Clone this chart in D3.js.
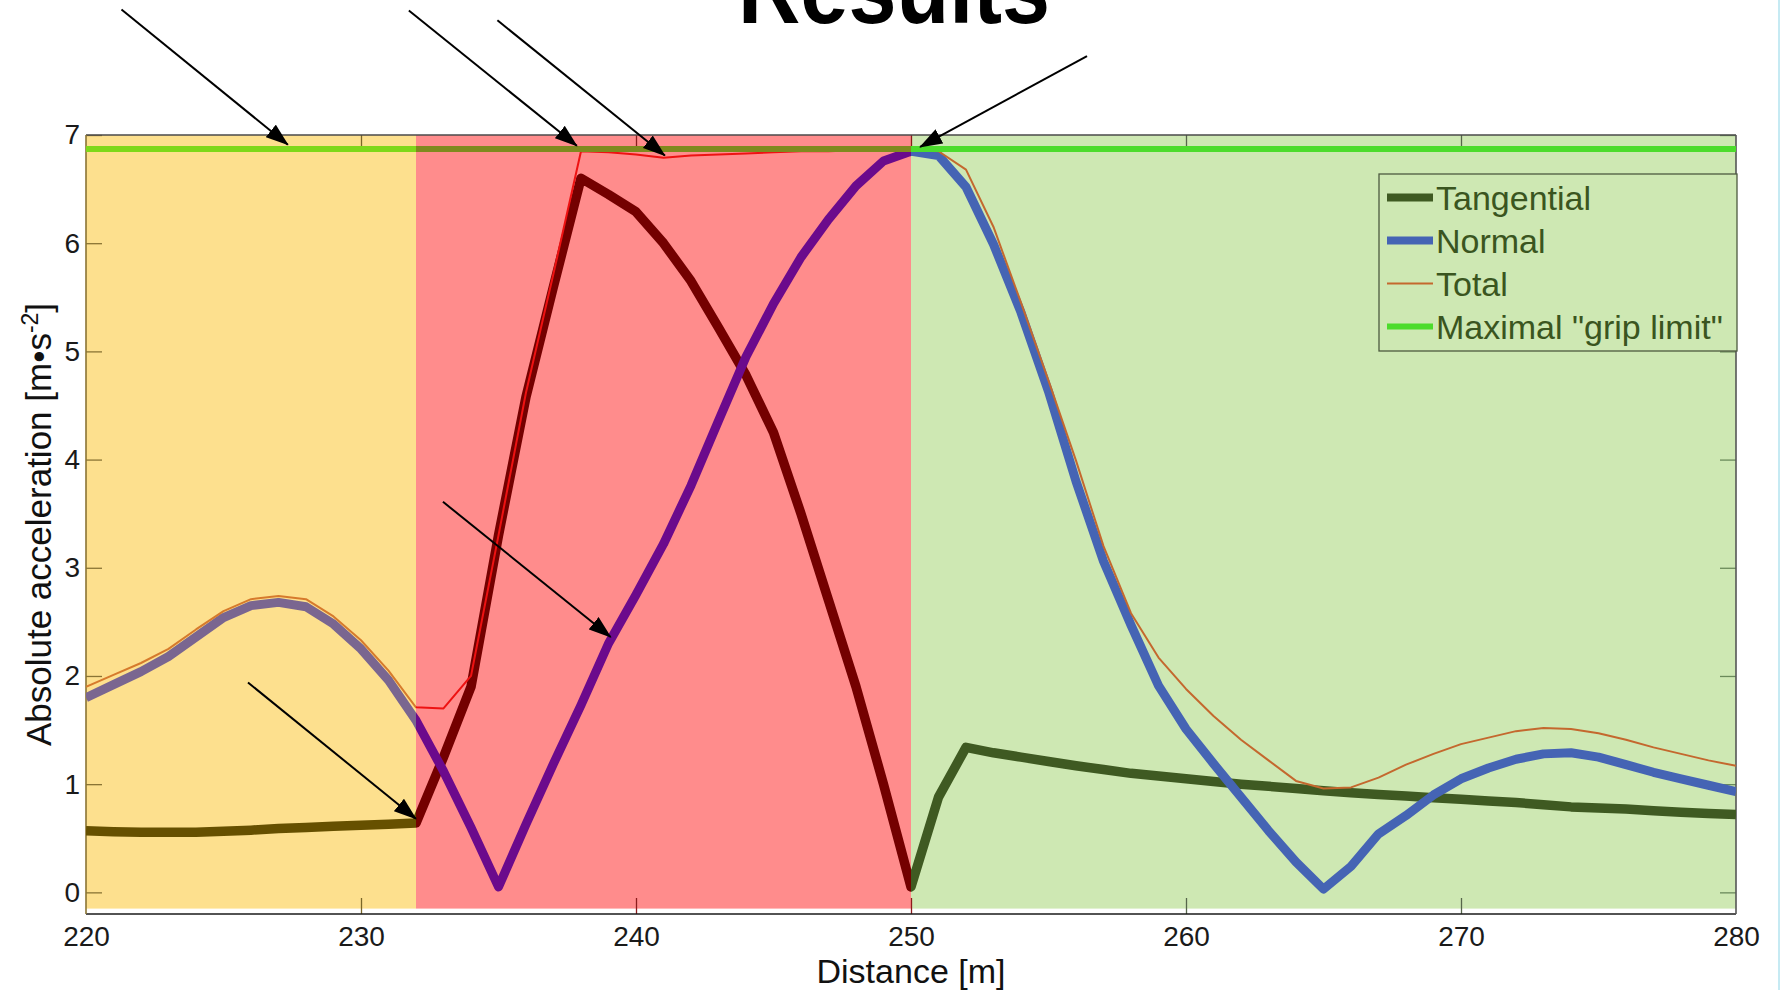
<!DOCTYPE html>
<html>
<head>
<meta charset="utf-8">
<script src="https://cdnjs.cloudflare.com/ajax/libs/d3/7.8.5/d3.min.js"></script>
<style>
    body { margin: 0; background: #ffffff; }
    #chart { width: 1781px; height: 990px; }
    text { font-family: "Liberation Sans", Arial, sans-serif; }
</style>
</head>
<body>
<div id="chart"></div>
<script>

// distance grid [m]
var distance = [
    220, 221, 222, 223, 224, 225, 226, 227, 228, 229,
    230, 231, 232, 233, 234, 235, 236, 237, 238, 239,
    240, 241, 242, 243, 244, 245, 246, 247, 248, 249,
    250, 251, 252, 253, 254, 255, 256, 257, 258, 259,
    260, 261, 262, 263, 264, 265, 266, 267, 268, 269,
    270, 271, 272, 273, 274, 275, 276, 277, 278, 279, 280
];

// accelerations [m/s2]
var tangential = [
    0.57, 0.56, 0.555, 0.555, 0.555, 0.565, 0.575, 0.59, 0.60, 0.61,
    0.62, 0.63, 0.64, 1.25, 1.90, 3.30, 4.58, 5.60, 6.60, 6.45,
    6.29, 6.00, 5.65, 5.22, 4.78, 4.25, 3.50, 2.70, 1.90, 1.00,
    0.05, 0.88, 1.34, 1.29, 1.25, 1.21, 1.17, 1.135, 1.10, 1.075,
    1.05, 1.025, 1.00, 0.98, 0.96, 0.94, 0.92, 0.905, 0.89, 0.875,
    0.86, 0.845, 0.83, 0.81, 0.79, 0.78, 0.77, 0.755, 0.74, 0.73, 0.72
];

var normal = [
    1.80, 1.92, 2.04, 2.18, 2.36, 2.54, 2.65, 2.68, 2.64, 2.48,
    2.25, 1.96, 1.59, 1.12, 0.60, 0.05, 0.63, 1.19, 1.73, 2.30,
    2.75, 3.22, 3.76, 4.36, 4.95, 5.44, 5.87, 6.22, 6.53, 6.76,
    6.85, 6.81, 6.52, 5.99, 5.36, 4.63, 3.80, 3.06, 2.47, 1.91,
    1.51, 1.19, 0.88, 0.57, 0.28, 0.03, 0.24, 0.54, 0.71, 0.90,
    1.05, 1.15, 1.23, 1.28, 1.29, 1.25, 1.18, 1.11, 1.05, 0.99, 0.93
];

var total = [
    1.90, 2.01, 2.12, 2.25, 2.43, 2.60, 2.71, 2.74, 2.71, 2.55,
    2.33, 2.05, 1.71, 1.70, 2.00, 3.30, 4.62, 5.72, 6.85, 6.84,
    6.82, 6.79, 6.81, 6.82, 6.83, 6.84, 6.85, 6.85, 6.86, 6.86,
    6.86, 6.85, 6.68, 6.15, 5.45, 4.73, 3.99, 3.20, 2.58, 2.17,
    1.88, 1.63, 1.41, 1.22, 1.03, 0.96, 0.97, 1.06, 1.18, 1.28,
    1.37, 1.43, 1.49, 1.52, 1.51, 1.47, 1.41, 1.34, 1.28, 1.22, 1.17
];

var gripDistance = [220, 280];
var gripLimit = [6.87, 6.87];

// coloured zones along the track
var zoneStart = [220, 232, 250];
var zoneEnd = [232, 250, 280];

var xTicks = [220, 230, 240, 250, 260, 270, 280];
var yTicks = [0, 1, 2, 3, 4, 5, 6, 7];

var legendLabels = ["Tangential", "Normal", "Total", "Maximal \"grip limit\""];

// annotation arrows, in data units (distance, acceleration)
var arrowFromDist = [221.29, 231.74, 234.96, 256.40, 232.98, 225.89];
var arrowFromAcc  = [8.16, 8.15, 8.06, 7.73, 3.61, 1.94];
var arrowToDist   = [227.34, 237.85, 241.05, 250.33, 239.08, 232.00];
var arrowToAcc    = [6.91, 6.90, 6.81, 6.89, 2.36, 0.68];


var width = 1781;
var height = 990;
var margin = {top: 135, left: 86, right: 45, bottom: 76};

var zoneFill = ["#fde08e", "#ff8c8c", "#cee8b3"];
var tickColors = ["#7a6628", "#8c1c1c", "#56664a"];

var series = [
    {x: distance, y: tangential, width: 9.5, colors: ["#665000", "#740000", "#3f5a22"]},
    {x: distance, y: normal, width: 9, colors: ["#7a6690", "#6b0a8c", "#4564b4"]},
    {x: distance, y: total, width: 2, colors: ["#d67a2c", "#ee1212", "#c4682e"]},
    {x: gripDistance, y: gripLimit, width: 6, colors: ["#7ed81a", "#7f8a1e", "#4cdc2c"]}
];
var legendColors = ["#3f5a22", "#4564b4", "#c4682e", "#4cdc2c"];
var legendWidths = [8, 8, 2, 6];

var svg = d3.select("#chart")
    .append("svg")
    .attr("width", width)
    .attr("height", height);

var xScale = d3.scaleLinear()
    .domain([220, 280])
    .range([margin.left, width - margin.right]);

var yScale = d3.scaleLinear()
    .domain([-0.2, 7])
    .range([height - margin.bottom, margin.top]);

function zoneOf(d) {
    if (d < zoneStart[1]) return 0;
    if (d <= zoneStart[2]) return 1;
    return 2;
}

var defs = svg.append("defs");

zoneStart.forEach(function(s, i) {
    defs.append("clipPath")
        .attr("id", "zone" + i)
        .append("rect")
            .attr("x", xScale(s))
            .attr("y", 0)
            .attr("width", xScale(zoneEnd[i]) - xScale(s))
            .attr("height", height);
});

defs.append("marker")
    .attr("id", "arrowhead")
    .attr("markerUnits", "userSpaceOnUse")
    .attr("markerWidth", 23)
    .attr("markerHeight", 16)
    .attr("refX", 22)
    .attr("refY", 8)
    .attr("orient", "auto")
    .append("path")
        .attr("d", "M0,0 L23,8 L0,16 Z")
        .attr("fill", "#000");

// zone backgrounds
svg.selectAll("rect.zone")
    .data(zoneStart)
    .enter()
    .append("rect")
        .attr("class", "zone")
        .attr("x", function(d) { return xScale(d); })
        .attr("y", yScale(7))
        .attr("width", function(d, i) { return xScale(zoneEnd[i]) - xScale(d); })
        .attr("height", yScale(-0.15) - yScale(7))
        .attr("fill", function(d, i) { return zoneFill[i]; });

// axes with inward ticks
var xAxis = svg.append("g")
    .attr("class", "axis")
    .attr("transform", `translate(0,${yScale(-0.2)})`)
    .call(d3.axisBottom(xScale).tickValues(xTicks).tickSizeInner(-16).tickSizeOuter(0).tickPadding(12));

var xAxisTop = svg.append("g")
    .attr("class", "axis")
    .attr("transform", `translate(0,${yScale(7)})`)
    .call(d3.axisTop(xScale).tickValues(xTicks).tickSizeInner(-16).tickSizeOuter(0).tickFormat(""));

var yAxis = svg.append("g")
    .attr("class", "axis")
    .attr("transform", `translate(${xScale(220)},0)`)
    .call(d3.axisLeft(yScale).tickValues(yTicks).tickSizeInner(-16).tickSizeOuter(0).tickPadding(6));

var yAxisRight = svg.append("g")
    .attr("class", "axis")
    .attr("transform", `translate(${xScale(280)},0)`)
    .call(d3.axisRight(yScale).tickValues(yTicks).tickSizeInner(-16).tickSizeOuter(0).tickFormat(""));

svg.selectAll(".axis .domain").remove();

xAxis.selectAll(".tick line")
    .attr("stroke", function(d) { return tickColors[zoneOf(d)]; })
    .attr("stroke-width", 1.3)
    .attr("opacity", function(d) { return (d === 220 || d === 280) ? 0 : 1; });
xAxisTop.selectAll(".tick line")
    .attr("stroke", function(d) { return tickColors[zoneOf(d)]; })
    .attr("stroke-width", 1.3)
    .attr("opacity", function(d) { return (d === 220 || d === 280) ? 0 : 1; });
yAxis.selectAll(".tick line").attr("stroke", "#8a7434").attr("stroke-width", 1.3);
yAxisRight.selectAll(".tick line").attr("stroke", "#6a8a5a").attr("stroke-width", 1.3);

svg.selectAll(".axis text")
    .attr("font-family", "\"Liberation Sans\", Arial, sans-serif")
    .attr("font-size", 28)
    .attr("fill", "#1a1a1a");

// spines
svg.append("line")
    .attr("x1", xScale(220)).attr("x2", xScale(280))
    .attr("y1", yScale(-0.2)).attr("y2", yScale(-0.2))
    .attr("stroke", "#1a1a1a").attr("stroke-width", 1.6);
svg.append("line")
    .attr("x1", xScale(220)).attr("x2", xScale(280))
    .attr("y1", yScale(7)).attr("y2", yScale(7))
    .attr("stroke", "#4a4a4a").attr("stroke-width", 1.5);
svg.append("line")
    .attr("x1", xScale(220)).attr("x2", xScale(220))
    .attr("y1", yScale(7)).attr("y2", yScale(-0.2))
    .attr("stroke", "#8a7434").attr("stroke-width", 1.6);
svg.append("line")
    .attr("x1", xScale(280)).attr("x2", xScale(280))
    .attr("y1", yScale(7)).attr("y2", yScale(-0.2))
    .attr("stroke", "#555555").attr("stroke-width", 1.6);

// lines, recoloured inside each zone
var line = d3.line()
    .x(function(d) { return xScale(d[0]); })
    .y(function(d) { return yScale(d[1]); });

zoneStart.forEach(function(s, i) {
    var g = svg.append("g").attr("clip-path", "url(#zone" + i + ")");
    series.forEach(function(sr) {
        g.append("path")
            .datum(sr.x.map(function(x, k) { return [x, sr.y[k]]; }))
            .attr("d", line)
            .attr("fill", "none")
            .attr("stroke", sr.colors[i])
            .attr("stroke-width", sr.width)
            .attr("stroke-linejoin", "round");
    });
});

// legend
var legend = svg.append("g").attr("class", "legend");
legend.append("rect")
    .attr("x", 1379)
    .attr("y", 174)
    .attr("width", 358)
    .attr("height", 177)
    .attr("fill", zoneFill[2])
    .attr("stroke", "#4d5a40")
    .attr("stroke-width", 1.3);

legendLabels.forEach(function(label, i) {
    var yy = 197.5 + i * 43;
    legend.append("line")
        .attr("x1", 1387).attr("x2", 1433)
        .attr("y1", yy).attr("y2", yy)
        .attr("stroke", legendColors[i])
        .attr("stroke-width", legendWidths[i]);
    legend.append("text")
        .attr("x", 1436)
        .attr("y", yy + 12)
        .attr("font-size", 34)
        .attr("fill", "#3a5520")
        .text(label);
});

// annotation arrows
svg.selectAll("line.arrow")
    .data(arrowFromDist)
    .enter()
    .append("line")
        .attr("class", "arrow")
        .attr("x1", function(d) { return xScale(d); })
        .attr("y1", function(d, i) { return yScale(arrowFromAcc[i]); })
        .attr("x2", function(d, i) { return xScale(arrowToDist[i]); })
        .attr("y2", function(d, i) { return yScale(arrowToAcc[i]); })
        .attr("stroke", "#000")
        .attr("stroke-width", 2)
        .attr("marker-end", "url(#arrowhead)");

// axis labels
var xAxisLabel = svg.append("text")
    .attr("x", (xScale(220) + xScale(280)) / 2)
    .attr("y", 983)
    .attr("text-anchor", "middle")
    .attr("font-size", 34)
    .attr("fill", "#111")
    .text("Distance [m]");

var yAxisLabel = svg.append("text")
    .attr("transform", "rotate(-90)")
    .attr("x", -(yScale(7) + yScale(-0.2)) / 2)
    .attr("y", 51)
    .attr("text-anchor", "middle")
    .attr("font-size", 35)
    .attr("fill", "#111");
yAxisLabel.append("tspan").text("Absolute acceleration [m\u2022s");
yAxisLabel.append("tspan").attr("baseline-shift", "super").attr("font-size", 23).text("-2");
yAxisLabel.append("tspan").text("]");

// slide title, cut by the top edge
svg.append("text")
    .attr("x", 894)
    .attr("y", 23)
    .attr("text-anchor", "middle")
    .attr("font-family", "\"Open Sans\", sans-serif")
    .attr("font-weight", 700)
    .attr("font-size", 100)
    .attr("textLength", 312)
    .attr("lengthAdjust", "spacingAndGlyphs")
    .attr("fill", "#000")
    .text("Results");

// slide edge
svg.append("line")
    .attr("x1", 1779).attr("x2", 1779)
    .attr("y1", 0).attr("y2", height)
    .attr("stroke", "#c6eaf3")
    .attr("stroke-width", 2);

</script>
</body>
</html>
